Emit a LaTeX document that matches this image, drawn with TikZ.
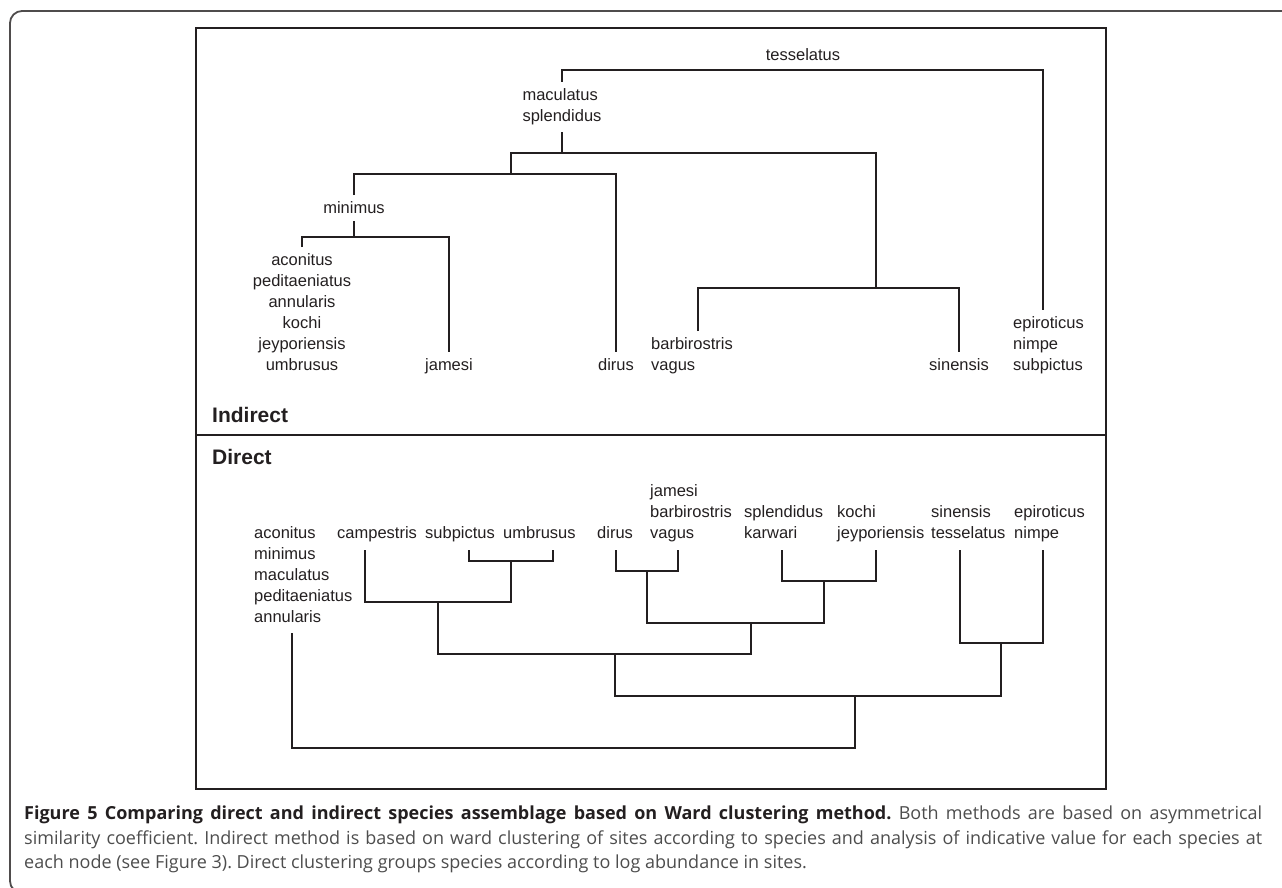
\documentclass[tikz,border=0pt]{standalone}
\usepackage{fontspec}
\usepackage{xcolor}
\usepackage{tikz}
\usetikzlibrary{positioning}
\newfontfamily\taxonfont{Liberation Sans}
\newfontfamily\capfont{Open Sans}
\definecolor{ink}{HTML}{231F20}
\definecolor{capgray}{HTML}{4D4D4D}
\frenchspacing

\begin{document}
\begin{tikzpicture}[x=1pt,y=-1pt]
  \tikzstyle{branch}=[ink,line width=1.2pt]
  \tikzstyle{panel}=[ink,line width=1.4pt]
  \tikzstyle{taxon}=[inner sep=0pt,outer ysep=7pt,text=ink,font=\taxonfont\fontsize{16.5}{21}\selectfont]
  \tikzstyle{method}=[inner sep=0pt,anchor=base west,text=ink,font=\taxonfont\bfseries\fontsize{21}{25}\selectfont]
  \tikzstyle{capline}=[inner sep=0pt,anchor=base west,text=capgray,font=\capfont\fontsize{18}{25}\selectfont]

  \clip (0,0) rectangle (1282,887);

  % FRAME AND PANELS
  \draw[ink!80,line width=1.8pt,rounded corners=12pt] (1290,11) -- (10,11) -- (10,893) -- (40,893);
  \draw[panel] (196,28) rectangle (1106,789);
  \draw[panel] (196,435) -- (1106,435);
  \node[method] (indirect) at (212,422) {Indirect};
  \node[method] (direct) at (212,464) {Direct};

  % INDIRECT
  \coordinate (I0) at (803,70);
  \coordinate (I1) at (562,153);
  \coordinate (I2) at (511,174);
  \coordinate (I3) at (354,237);
  \coordinate (I4) at (876,288);
  \coordinate (Ibar-leg) at (698,331);
  \coordinate (Iepi-leg) at (1043,310);

  \node[taxon] (Ites) at (803,55) {tesselatus};
  \node[taxon,anchor=south,align=left] (Imac) at (562,132) {maculatus\\splendidus};
  \node[taxon,anchor=north] (Imin) at (354,195) {minimus};
  \node[taxon,anchor=north,align=center] (Iaco) at (302,247) {aconitus\\peditaeniatus\\annularis\\kochi\\jeyporiensis\\umbrusus};
  \node[taxon,anchor=north] (Ijam) at (449,352) {jamesi};
  \node[taxon,anchor=north] (Idir) at (616,352) {dirus};
  \node[taxon,anchor=north west,align=left] (Ibar) at (651,331) {barbirostris\\vagus};
  \node[taxon,anchor=north] (Isin) at (959,352) {sinensis};
  \node[taxon,anchor=north west,align=left] (Iepi) at (1013,310) {epiroticus\\nimpe\\subpictus};

  \draw[branch] (Imac.north) |- (I0) -| (Iepi-leg);
  \draw[branch] (Imac.south) -- (I1);
  \draw[branch] (I2) |- (I1) -| (I4);
  \draw[branch] (Imin.north) |- (I2) -| (Idir.north);
  \draw[branch] (Imin.south) -- (I3);
  \draw[branch] (Iaco.north) |- (I3) -| (Ijam.north);
  \draw[branch] (Ibar-leg) |- (I4) -| (Isin.north);

  % DIRECT
  \node[taxon,anchor=north west,align=left] (Daco) at (254,520) {aconitus\\minimus\\maculatus\\peditaeniatus\\annularis};
  \node[taxon,anchor=north west] (Dcam) at (337,520) {campestris};
  \node[taxon,anchor=north west] (Dsub) at (425,520) {subpictus};
  \node[taxon,anchor=north west] (Dumb) at (503,520) {umbrusus};
  \node[taxon,anchor=north west] (Ddir) at (597,520) {dirus};
  \node[taxon,anchor=north west,align=left] (Dvag) at (650,478) {jamesi\\barbirostris\\vagus};
  \node[taxon,anchor=north west,align=left] (Dkar) at (744,499) {splendidus\\karwari};
  \node[taxon,anchor=north west,align=left] (Djey) at (837,499) {kochi\\jeyporiensis};
  \node[taxon,anchor=north west,align=left] (Dtes) at (931,499) {sinensis\\tesselatus};
  \node[taxon,anchor=north west,align=left] (Dnim) at (1014,499) {epiroticus\\nimpe};

  \coordinate (Daco-leg) at (292,633);
  \coordinate (Dcam-leg) at (365,550);
  \coordinate (Dsub-leg) at (469,550);
  \coordinate (Dumb-leg) at (553,550);
  \coordinate (Ddir-leg) at (616,550);
  \coordinate (Dvag-leg) at (678,550);
  \coordinate (Dkar-leg) at (782,550);
  \coordinate (Djey-leg) at (876,550);
  \coordinate (Dtes-leg) at (960,550);
  \coordinate (Dnim-leg) at (1043,550);

  \coordinate (D1) at (511,561);
  \coordinate (D2) at (438,602);
  \coordinate (D3) at (647,571);
  \coordinate (D4) at (824,581);
  \coordinate (D5) at (751,623);
  \coordinate (D6) at (615,654);
  \coordinate (D7) at (1001,643);
  \coordinate (D8) at (855,696);
  \coordinate (D9) at (574,748);

  \draw[branch] (Dsub-leg) |- (D1) -| (Dumb-leg);
  \draw[branch] (Dcam-leg) |- (D2) -| (D1);
  \draw[branch] (Ddir-leg) |- (D3) -| (Dvag-leg);
  \draw[branch] (Dkar-leg) |- (D4) -| (Djey-leg);
  \draw[branch] (D3) |- (D5) -| (D4);
  \draw[branch] (D2) |- (D6) -| (D5);
  \draw[branch] (Dtes-leg) |- (D7) -| (Dnim-leg);
  \draw[branch] (D6) |- (D8) -| (D7);
  \draw[branch] (Daco-leg) |- (D9) -| (D8);

  % CAPTION
  \node[capline] (cap1) at (24,819) {\makebox[1238pt][s]{{\color{ink}\bfseries Figure 5 Comparing direct and indirect species assemblage based on Ward clustering method.} Both methods are based on asymmetrical}};
  \node[capline] (cap2) at (24,844) {\makebox[1238pt][s]{similarity coefficient. Indirect method is based on ward clustering of sites according to species and analysis of indicative value for each species at}};
  \node[capline] (cap3) at (24,868) {each node (see Figure 3). Direct clustering groups species according to log abundance in sites.};
\end{tikzpicture}
\end{document}
